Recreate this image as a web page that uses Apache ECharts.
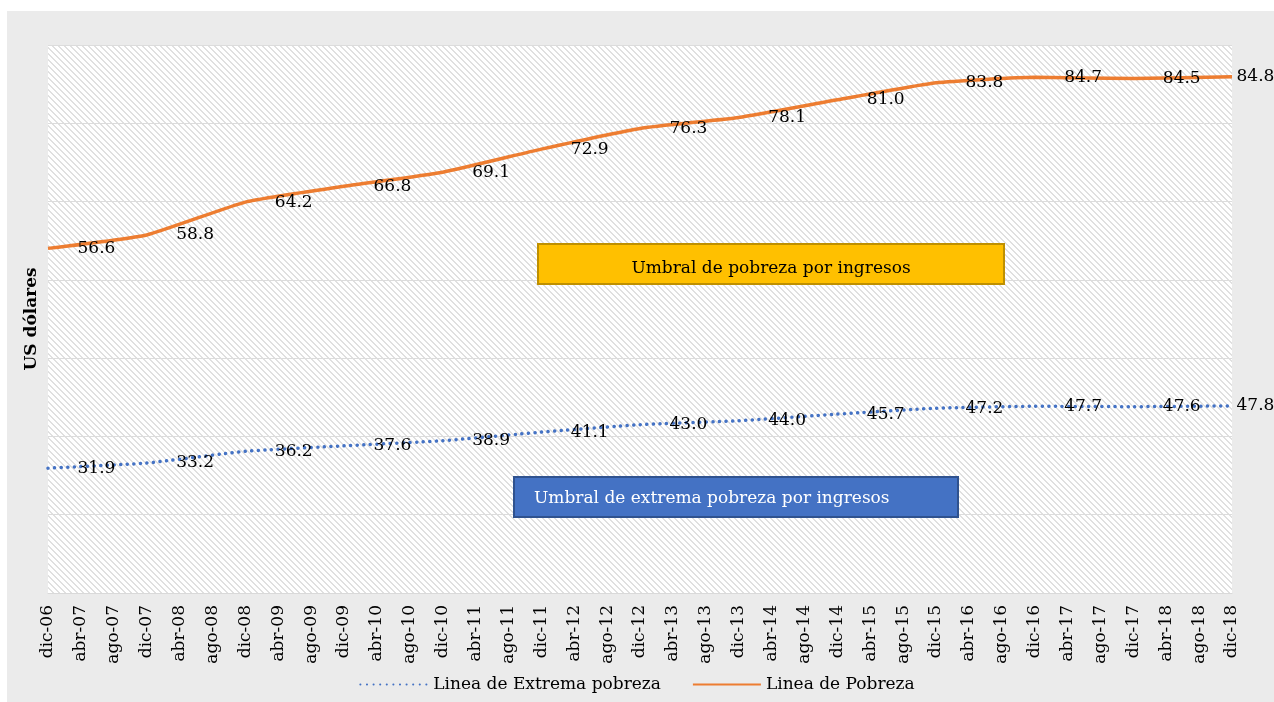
<!DOCTYPE html>
<html>
<head>
<meta charset="utf-8">
<script src="https://cdn.jsdelivr.net/npm/echarts@6/dist/echarts.min.js"></script>
<style>
  body { margin: 0; background: #fff; }
  #wrap { position: relative; width: 1274px; height: 702px; }
  #bg { position: absolute; left: 7px; top: 11px; right: 0; bottom: 0; background: #ebebeb; }
  #main { position: absolute; left: 0; top: 0; width: 1274px; height: 702px; }
</style>
</head>
<body>
<div id="wrap"><div id="bg"></div><div id="main"></div></div>
<script>
// meses (cada 4 meses) dic-06 ... dic-18
var categories = ['dic-06'];
for (var y = 7; y <= 18; y++) {
  var yy = (y < 10 ? '0' : '') + y;
  categories.push('abr-' + yy, 'ago-' + yy, 'dic-' + yy);
}

// valores anuales (diciembre de cada año)
var years = ['dic-06', 'dic-07', 'dic-08', 'dic-09', 'dic-10', 'dic-11', 'dic-12',
             'dic-13', 'dic-14', 'dic-15', 'dic-16', 'dic-17', 'dic-18'];
var pobreza = [56.6, 58.8, 64.2, 66.8, 69.1, 72.9, 76.3, 78.1, 81.0, 83.8, 84.7, 84.5, 84.8];
var extrema = [31.9, 33.2, 36.2, 37.6, 38.9, 41.1, 43.0, 44.0, 45.7, 47.2, 47.7, 47.6, 47.8];

var font = 'DejaVu Serif';

function toData(vals) {
  return vals.map(function (v, i) {
    var item = { value: [categories.indexOf(years[i]), v] };
    if (i === vals.length - 1) item.label = { distance: 4 };
    return item;
  });
}

// fondo rayado del área de trazado
var T = 12;
var tile = document.createElement('canvas');
tile.width = T; tile.height = T;
var ctx = tile.getContext('2d');
ctx.fillStyle = '#ffffff';
ctx.fillRect(0, 0, T, T);
var img = ctx.getImageData(0, 0, T, T);
for (var py = 0; py < T; py++) {
  for (var px = 0; px < T; px++) {
    var m = ((px - py) % 6 + 6) % 6;
    if (m === 0 || m === 1) {
      var k = (py * T + px) * 4;
      img.data[k] = 224; img.data[k + 1] = 224; img.data[k + 2] = 224;
    }
  }
}
ctx.putImageData(img, 0, 0);

var myChart = echarts.init(document.getElementById('main'));

var labelStyle = {
  show: true,
  position: 'right',
  distance: 29,
  color: '#000',
  opacity: 1,
  fontFamily: font,
  fontSize: 17,
  formatter: function (p) { return p.value[1].toFixed(1); }
};

var option = {
  animation: false,
  grid: {
    left: 48, right: 42, top: 45, bottom: 109,
    show: true, borderWidth: 0,
    backgroundColor: { image: tile, repeat: 'repeat' }
  },
  legend: {
    bottom: 4,
    left: 'center',
    itemWidth: 68,
    itemHeight: 14,
    itemGap: 31,
    textStyle: { fontFamily: font, fontSize: 17, color: '#000' },
    data: ['Linea de Extrema pobreza', 'Linea de Pobreza']
  },
  xAxis: {
    type: 'category',
    boundaryGap: false,
    data: categories,
    axisLine: { lineStyle: { color: '#d9d9d9', width: 1 } },
    axisTick: { show: false },
    axisLabel: {
      interval: 0, rotate: 90, margin: 12,
      fontFamily: font, fontSize: 17, color: '#000'
    }
  },
  yAxis: [{
    type: 'value',
    min: 0, max: 140, interval: 20,
    name: 'US dólares',
    nameLocation: 'middle',
    nameGap: 8,
    nameTextStyle: { fontFamily: font, fontSize: 17, fontWeight: 'bold', color: '#000' },
    axisLine: { show: false },
    axisTick: { show: false },
    axisLabel: { show: false },
    splitLine: { lineStyle: { color: '#dcdcdc', width: 1 } }
  }, {
    type: 'value',
    min: 0, max: 90,
    show: false,
    splitLine: { show: false }
  }],
  series: [{
    name: 'Linea de Extrema pobreza',
    type: 'line',
    yAxisIndex: 0,
    data: toData(extrema),
    symbol: 'circle',
    symbolSize: 1,
    itemStyle: { color: 'rgba(0,0,0,0)' },
    smooth: 0.15,
    lineStyle: { color: '#4472C4', width: 3.5, type: [0.1, 6.5], cap: 'round' },
    label: labelStyle
  }, {
    name: 'Linea de Pobreza',
    type: 'line',
    yAxisIndex: 1,
    data: toData(pobreza),
    symbol: 'circle',
    symbolSize: 1,
    itemStyle: { color: 'rgba(0,0,0,0)' },
    smooth: 0.15,
    lineStyle: { color: '#ED7D31', width: 3.5 },
    label: labelStyle
  }],
  graphic: [{
    type: 'group',
    left: 537, top: 243,
    z: 100,
    children: [{
      type: 'rect',
      z: 100,
      shape: { x: 0, y: 0, width: 466, height: 40 },
      style: { fill: '#FFC000', stroke: '#BF9000', lineWidth: 2 }
    }, {
      type: 'text',
      z: 101,
      x: 233, y: 25,
      style: {
        text: 'Umbral de pobreza por ingresos', fill: '#000',
        font: '17px "DejaVu Serif"', align: 'center', verticalAlign: 'middle'
      }
    }]
  }, {
    type: 'group',
    left: 513, top: 476,
    z: 100,
    children: [{
      type: 'rect',
      z: 100,
      shape: { x: 0, y: 0, width: 444, height: 40 },
      style: { fill: '#4472C4', stroke: '#2F528F', lineWidth: 2 }
    }, {
      type: 'text',
      z: 101,
      x: 20, y: 22,
      style: {
        text: 'Umbral de extrema pobreza por ingresos', fill: '#fff',
        font: '17px "DejaVu Serif"', align: 'left', verticalAlign: 'middle'
      }
    }]
  }]
};

myChart.setOption(option);
</script>
</body>
</html>
